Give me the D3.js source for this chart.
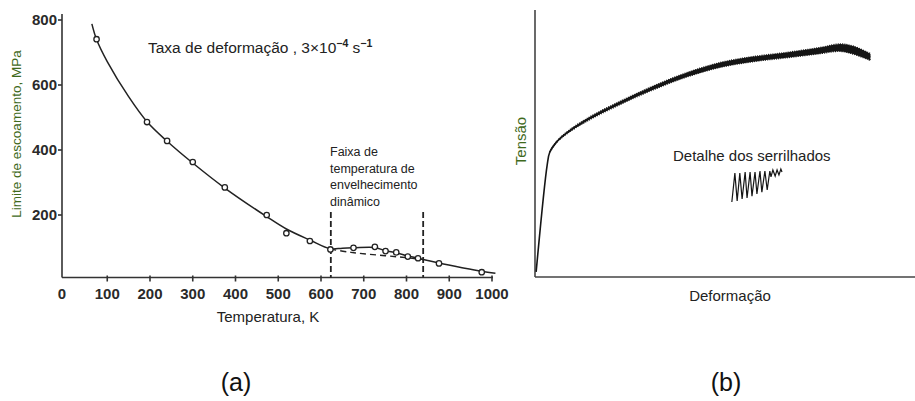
<!DOCTYPE html>
<html><head><meta charset="utf-8">
<script src="https://cdnjs.cloudflare.com/ajax/libs/d3/7.8.5/d3.min.js"></script>
<style>
html,body{margin:0;padding:0;background:#fff;}
svg{display:block;}
</style></head>
<body>
<svg id="c" width="915" height="401"></svg>
<script>
// ---------- Data: chart (a) ----------
const xTicksA = [0,100,200,300,400,500,600,700,800,900,1000];
const yTicksA = [200,400,600,800];
const tempPoints = [75,193,240,300,375,473,519,574,622,676,726,751,776,803,827,876,976];
const yieldPoints = [741,486,428,363,285,200,144,120,94,99,102,89,85,72,67,51,24];
const fitTemp = [64,75,100,150,193,240,300,375,473,519,574,622,650,676,726,751,776,803,827,839,876,930,976,1008];
const fitYield = [788,740,672,564,487,427,360,283,195,157,123,96,98,99,100,90,84,74,67,63,52,38,27,21];
const dashTemp = [622,670,730,790,839];
const dashYield = [95,85,77,70,63];
const agingRange = [623,839];
const noteLines = ["Faixa de","temperatura de","envelhecimento","dinâmico"];

// ---------- Data: chart (b) ----------
const strain = [0.3,3.2,3.9,5.7,8.3,13.6,22.4,31.1,39.9,48.7,57.4,66.2,75.0,80.3,83.7,88.2];
const stress = [1.9,41.9,46.8,50.6,53.9,58.8,65.2,70.8,75.7,79.4,81.6,83.1,84.8,85.9,85.0,82.4];
const serrBand = [0,0,0,0.2,0.35,0.5,0.6,0.7,0.8,0.9,0.95,1.0,1.15,1.4,1.5,1.3];
const serrStrain = [51.8,52.6,53.2,53.9,54.5,55.3,55.8,56.6,57.1,57.9,58.4,59.2,59.7,60.5,61.1,61.8,62.1,62.6,63.2,63.7,64.2,64.7,65.0];
const serrStress = [28.1,38.9,28.5,38.9,29.2,39.3,29.6,39.3,30.3,39.3,31.1,39.7,31.8,39.7,32.6,39.7,37.5,40.1,37.8,40.1,38.2,40.4,39.3];

const svg = d3.select("#c");
const narrow = "'Liberation Sans Narrow','Arial Narrow','Liberation Sans',Arial,sans-serif";
const sans = "'Liberation Sans',Arial,sans-serif";
const green = "#3f6a1c";
const ink = "#222";

// ================= Chart (a) =================
const xA = d3.scaleLinear().domain([0,1000]).range([64.5,492]);
const yA = d3.scaleLinear().domain([0,800]).range([280,20]);
const gA = svg.append("g");
const axisY = 277.5, axisX = 62;

gA.append("line").attr("x1",axisX).attr("x2",xA(1000)+1).attr("y1",axisY).attr("y2",axisY)
  .attr("stroke","#333").attr("stroke-width",1.6);
gA.append("line").attr("x1",axisX).attr("x2",axisX).attr("y1",14).attr("y2",axisY)
  .attr("stroke","#333").attr("stroke-width",1.6);

xTicksA.forEach(t=>{
  if(t>0) gA.append("line").attr("x1",xA(t)).attr("x2",xA(t)).attr("y1",axisY-2).attr("y2",axisY+4)
    .attr("stroke","#333").attr("stroke-width",1.6);
  gA.append("text").attr("x",t===0?axisX:xA(t)).attr("y",299).attr("text-anchor","middle")
    .attr("font-family",narrow).attr("font-weight","bold").attr("font-size",15).attr("fill","#2a2a2a").text(t);
});
yTicksA.forEach(t=>{
  gA.append("line").attr("x1",axisX-4).attr("x2",axisX).attr("y1",yA(t)).attr("y2",yA(t))
    .attr("stroke","#333").attr("stroke-width",1.6);
  gA.append("text").attr("x",axisX-5).attr("y",yA(t)+5).attr("text-anchor","end")
    .attr("font-family",narrow).attr("font-weight","bold").attr("font-size",15).attr("fill","#2a2a2a").text(t);
});

agingRange.forEach(t=>{
  gA.append("line").attr("x1",xA(t)).attr("x2",xA(t)).attr("y1",212).attr("y2",axisY)
    .attr("stroke","#222").attr("stroke-width",1.8).attr("stroke-dasharray","6,3");
});

const lineA = d3.line().x(d=>xA(d[0])).y(d=>yA(d[1])).curve(d3.curveCatmullRom.alpha(0.5));
gA.append("path").datum(fitTemp.map((t,i)=>[t,fitYield[i]])).attr("d",lineA)
  .attr("fill","none").attr("stroke","#222").attr("stroke-width",1.5);
gA.append("path").datum(dashTemp.map((t,i)=>[t,dashYield[i]])).attr("d",lineA)
  .attr("fill","none").attr("stroke","#222").attr("stroke-width",1.4).attr("stroke-dasharray","6,4");

gA.selectAll("circle.p").data(tempPoints.map((t,i)=>[t,yieldPoints[i]])).enter().append("circle")
  .attr("cx",d=>xA(d[0])).attr("cy",d=>yA(d[1])).attr("r",2.7)
  .attr("fill","#fff").attr("stroke","#222").attr("stroke-width",1.3);

const tt = gA.append("text").attr("x",148).attr("y",53).attr("font-family",sans).attr("font-size",15.5).attr("fill",ink);
tt.append("tspan").text("Taxa de deformação , 3×10");
tt.append("tspan").attr("dy",-6).attr("font-size",10.5).attr("font-weight","bold").text("−4");
tt.append("tspan").attr("dy",6).attr("font-size",15.5).text(" s");
tt.append("tspan").attr("dy",-6).attr("font-size",10.5).attr("font-weight","bold").text("−1");

noteLines.forEach((s,i)=>{
  gA.append("text").attr("x",330).attr("y",156+i*16.7).attr("font-family",sans).attr("font-size",12.5)
    .attr("fill",ink).text(s);
});

gA.append("text").attr("transform","translate(21,134) rotate(-90)").attr("text-anchor","middle")
  .attr("font-family",sans).attr("font-size",13.5).attr("fill",green).text("Limite de escoamento, MPa");
gA.append("text").attr("x",268).attr("y",322).attr("text-anchor","middle")
  .attr("font-family",narrow).attr("font-size",15).attr("fill",ink).text("Temperatura, K");
svg.append("text").attr("x",236).attr("y",391).attr("text-anchor","middle")
  .attr("font-family",sans).attr("font-size",25).attr("fill","#111").text("(a)");

// ================= Chart (b) =================
const xB = d3.scaleLinear().domain([0,100]).range([535,915]);
const yB = d3.scaleLinear().domain([0,100]).range([277,10]);
const gB = svg.append("g");
gB.append("line").attr("x1",xB(0)).attr("x2",xB(100)).attr("y1",yB(0)).attr("y2",yB(0))
  .attr("stroke","#444").attr("stroke-width",1.6);
gB.append("line").attr("x1",xB(0)).attr("x2",xB(0)).attr("y1",yB(0)).attr("y2",yB(100))
  .attr("stroke","#444").attr("stroke-width",1.6);

const curveData = strain.map((s,i)=>({x:s,y:stress[i],h:serrBand[i]}));
const areaB = d3.area().x(d=>xB(d.x)).y0(d=>yB(d.y-d.h)).y1(d=>yB(d.y+d.h)).curve(d3.curveCatmullRom.alpha(0.5));
gB.append("path").datum(curveData.slice(2)).attr("d",areaB).attr("fill","#151515")
  .attr("stroke","#151515").attr("stroke-width",1.4).attr("stroke-dasharray","1,1.2");
const lineB = d3.line().x(d=>xB(d.x)).y(d=>yB(d.y)).curve(d3.curveCatmullRom.alpha(0.5));
gB.append("path").datum(curveData).attr("d",lineB).attr("fill","none").attr("stroke","#151515").attr("stroke-width",1.6);

gB.append("path").datum(serrStrain.map((s,i)=>({x:s,y:serrStress[i]})))
  .attr("d",d3.line().x(d=>xB(d.x)).y(d=>yB(d.y)))
  .attr("fill","none").attr("stroke","#151515").attr("stroke-width",1.2).attr("stroke-linejoin","miter");

gB.append("text").attr("x",673).attr("y",161).attr("font-family",sans).attr("font-size",15).attr("fill",ink)
  .text("Detalhe dos serrilhados");
gB.append("text").attr("transform","translate(526,141) rotate(-90)").attr("text-anchor","middle")
  .attr("font-family",sans).attr("font-size",15).attr("fill",green).text("Tensão");
gB.append("text").attr("x",730).attr("y",301).attr("text-anchor","middle")
  .attr("font-family",sans).attr("font-size",15).attr("fill",ink).text("Deformação");
svg.append("text").attr("x",726).attr("y",391).attr("text-anchor","middle")
  .attr("font-family",sans).attr("font-size",25).attr("fill","#111").text("(b)");
</script>
</body></html>
